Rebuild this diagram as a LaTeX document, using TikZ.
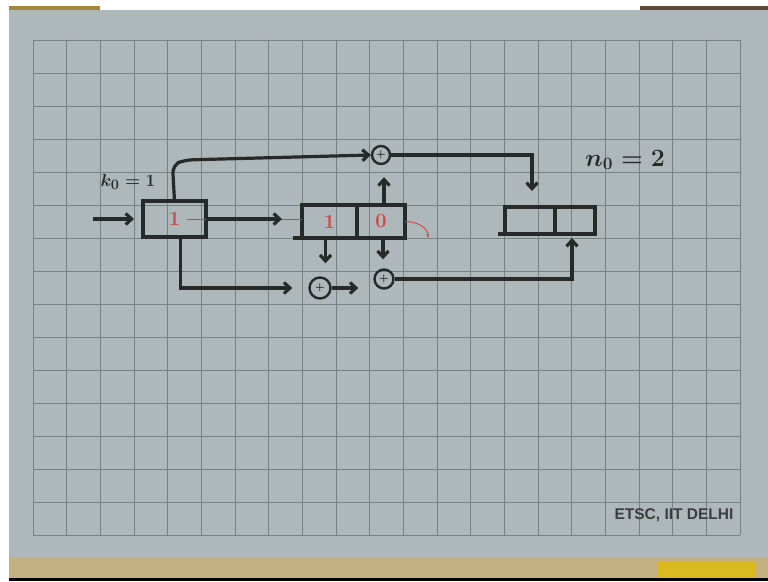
\documentclass[tikz,border=0pt]{standalone}
\usepackage{fontspec}
\newfontfamily\markfont{Liberation Sans}
\usepackage{xcolor}
\usepackage{tikz}
\usetikzlibrary{arrows.meta,positioning}

\definecolor{paper}{RGB}{174,184,186}
\definecolor{gridc}{RGB}{118,130,127}
\definecolor{inkc}{RGB}{38,42,40}
\definecolor{redink}{RGB}{205,70,72}
\definecolor{tanc}{RGB}{196,176,128}
\definecolor{topl}{RGB}{165,135,60}
\definecolor{topr}{RGB}{92,74,54}
\definecolor{yellowc}{RGB}{218,186,30}

\begin{document}
\begin{tikzpicture}[
  x=1pt, y=-1pt,
  ink/.style={draw=inkc, line width=3.2pt},
  reg/.style={ink, rectangle, inner sep=0pt, outer sep=0pt, text=redink,
              font=\fontsize{20}{20}\selectfont\bfseries},
  adder/.style={ink, circle, line width=2.4pt, inner sep=0pt,
                minimum size=18pt, font=\fontsize{11}{11}\selectfont\bfseries},
  wire/.style={ink, -{Straight Barb[length=6pt,width=11pt]}},
  shiftline/.style={draw=redink, line width=0.9pt},
  hand/.style={text=inkc, font=\boldmath\fontsize{#1}{#1}\selectfont}
]
\useasboundingbox (0,0) rectangle (768,581);

% photo of the sheet
\fill[white] (0,0) rectangle (768,581);
\fill[paper] (9,10) rectangle (768,557);
\fill[topl] (9,6) rectangle (100,10);
\fill[topr] (640,6) rectangle (768,10);
\fill[tanc] (9,557) rectangle (768,578);
\fill[yellowc] (658,562) rectangle (755,577);
\fill[black] (9,578) rectangle (768,581);

% grid
\foreach \i in {0,...,21}
  \draw[gridc, line width=1pt] ({33+\i*33.67},40) -- ({33+\i*33.67},535);
\foreach \j in {0,...,15}
  \draw[gridc, line width=1pt] (33,{40+\j*33}) -- (740,{40+\j*33});

% registers
\node[reg, minimum width=63pt, minimum height=36pt] (in) at (174.5,219) {1};
\node[reg, minimum width=55pt, minimum height=33pt] (r1) at (329.5,221.5) {1};
\node[reg, minimum width=48pt, minimum height=33pt, right=0pt of r1] (r2) {0};
\node[reg, minimum width=50pt, minimum height=27pt] (o1) at (530,220.5) {};
\node[reg, minimum width=40pt, minimum height=27pt, right=0pt of o1] (o2) {};
\draw[ink] (r1.south west) -- ++(-9,0);
\draw[ink] (o1.south west) -- ++(-7,0);

% adders
\node[adder] (addtop) at (381,155) {+};
\node[adder, minimum size=21pt] (addl) at (320,288) {+};
\node[adder, minimum size=19pt] (addr) at (384,279) {+};

% labels
\node[hand=19] (kin) at (128,182) {$k_0=1$};
\node[hand=24] (nout) at (625,160) {$n_0=2$};
\node[text={rgb,255:red,58;green,62;blue,64}, font=\markfont\bfseries\fontsize{15.5}{15.5}\selectfont]
  (etsc) at (674,515) {ETSC, IIT DELHI};

% connections
\coordinate (src) at (93,219);
\coordinate (shiftout) at (428,238);
\draw[shiftline] ([xshift=12pt]in.center) -- (in.center -| r1.west);
\draw[shiftline, -{Stealth[length=4pt]}] (r2.east) to[out=0, in=90] (shiftout);
\draw[wire, shorten >=9pt] (src) -- (in.west);
\draw[wire, shorten >=20pt] (in.east) -- (in.east -| r1.west);
\draw[wire, rounded corners=8pt] (in.north) -- ++(-2,-36) -- ++(12,-5) -- (addtop.west);
\draw[wire, shorten >=16pt] ([xshift=6pt]in.south) |- (addl.west);
\draw[wire, shorten >=13pt] ([xshift=-4pt]r1.south) -- ([xshift=-4pt]r1.south |- addl.north);
\draw[wire, shorten >=9pt] ([xshift=2pt]r2.south) -- ([xshift=2pt]r2.south |- addr.north);
\draw[wire, shorten >=12pt] ([xshift=3pt]r2.north) -- ([xshift=3pt]r2.north |- addtop.south);
\draw[wire, shorten >=15pt] (addl.east) -- (addl.east -| addr.west);
\draw[wire, shorten >=16pt] (addtop.east) -| ([xshift=2pt]o1.north);
\draw[wire, shorten >=4pt] (addr.east) -| ([xshift=-3pt]o2.south);
\end{tikzpicture}
\end{document}
